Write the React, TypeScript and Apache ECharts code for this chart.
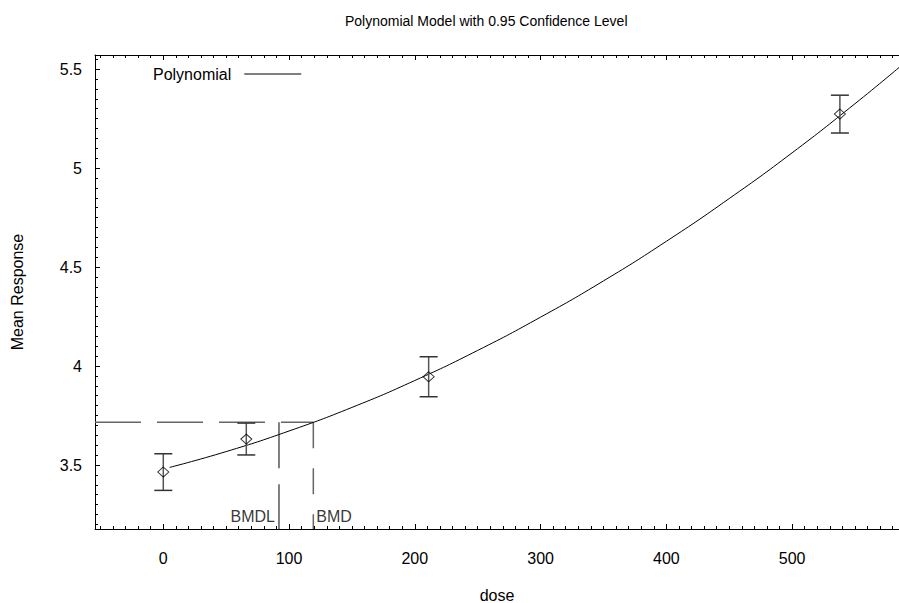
import React, { useEffect, useRef } from "react";
import * as echarts from "echarts";

// Observed data (dose, mean, 95% CI)
const doses = [0, 66, 211, 538];
const means = [3.465, 3.631, 3.946, 5.273];
const lower = [3.372, 3.551, 3.845, 5.177];
const upper = [3.557, 3.712, 4.047, 5.368];

// Fitted polynomial curve
const curveDose = [5, 50, 100, 150, 200, 250, 300, 350, 400, 450, 500, 550, 586];
const curveMean = [3.488, 3.568, 3.672, 3.791, 3.927, 4.079, 4.247, 4.43, 4.63, 4.846, 5.077, 5.325, 5.513];

// Benchmark values
const BMR = 3.716;
const BMDL = 92;
const BMD = 119.3;
const bmLabels = ["BMDL", "BMD"];

// Axis ranges and ticks
const xMin = -54.3;
const xMax = 585;
const yMin = 3.177;
const yMax = 5.571;
const xTicks = [0, 100, 200, 300, 400, 500];
const yTicks = [3.5, 4, 4.5, 5, 5.5];

const FONT = "Liberation Sans, Arial, sans-serif";

function range(a: number, b: number, step: number, digits: number) {
  const out: number[] = [];
  for (let v = a; v <= b + 1e-9; v += step) out.push(Number(v.toFixed(digits)));
  return out;
}
const xMinor = range(-50, 580, 10, 0);
const yMinor = range(3.2, 5.55, 0.05, 2);

export default function App() {
  const ref = useRef<HTMLDivElement>(null);
  useEffect(() => {
    if (!ref.current) return;
    const chart = echarts.init(ref.current, null, { renderer: "svg" });
    const axisLine = { show: true, onZero: false, lineStyle: { color: "#000", width: 1 } };
    const noLine = { show: false, onZero: false };
    const baseX = {
      type: "value",
      min: xMin,
      max: xMax,
      splitLine: { show: false },
    };
    const baseY = {
      type: "value",
      min: yMin,
      max: yMax,
      splitLine: { show: false },
    };
    chart.setOption({
      animation: false,
      backgroundColor: "#fff",
      title: {
        text: "Polynomial Model with 0.95 Confidence Level",
        left: 340,
        top: 9,
        textStyle: { fontFamily: FONT, fontSize: 14, fontWeight: "normal", color: "#000" },
      },
      legend: {
        data: [{ name: "Polynomial", icon: "rect" }],
        left: 153,
        top: 66,
        align: "right",
        itemWidth: 57,
        itemHeight: 1,
        padding: 0,
        textStyle: { fontFamily: FONT, fontSize: 16, color: "#000", padding: [0, 8, 0, 0] },
      },
      grid: { left: 95, right: 0, top: 55, bottom: 74, containLabel: false, outerBoundsMode: "none" },
      xAxis: [
        {
          ...baseX,
          position: "bottom",
          name: "dose",
          nameLocation: "middle",
          nameGap: 58,
          nameTextStyle: { fontFamily: FONT, fontSize: 16, color: "#000" },
          axisLine,
          axisTick: { show: true, inside: true, length: 5, customValues: xTicks, lineStyle: { color: "#000" } },
          axisLabel: { show: true, customValues: xTicks, margin: 21, fontFamily: FONT, fontSize: 16, color: "#000" },
        },
        {
          ...baseX,
          position: "bottom",
          axisLine: noLine,
          axisTick: { show: true, inside: true, length: 3, customValues: xMinor, lineStyle: { color: "#000" } },
          axisLabel: { show: false },
        },
        {
          ...baseX,
          position: "top",
          axisLine,
          axisTick: { show: true, inside: true, length: 5, customValues: xTicks, lineStyle: { color: "#000" } },
          axisLabel: { show: false },
        },
        {
          ...baseX,
          position: "top",
          axisLine: noLine,
          axisTick: { show: true, inside: true, length: 3, customValues: xMinor, lineStyle: { color: "#000" } },
          axisLabel: { show: false },
        },
      ],
      yAxis: [
        {
          ...baseY,
          position: "left",
          name: "Mean Response",
          nameLocation: "middle",
          nameGap: 70,
          nameTextStyle: { fontFamily: FONT, fontSize: 16, color: "#000" },
          axisLine,
          axisTick: { show: true, inside: true, length: 5, customValues: yTicks, lineStyle: { color: "#000" } },
          axisLabel: { show: true, customValues: yTicks, margin: 13, fontFamily: FONT, fontSize: 16, color: "#000" },
        },
        {
          ...baseY,
          position: "left",
          axisLine: noLine,
          axisTick: { show: true, inside: true, length: 3, customValues: yMinor, lineStyle: { color: "#000" } },
          axisLabel: { show: false },
        },
      ],
      series: [
        {
          name: "BMR",
          type: "line",
          data: [
            [xMin, BMR],
            [BMD, BMR],
          ],
          symbol: "none",
          lineStyle: { color: "#666", width: 1.5, type: [46, 16] },
          silent: true,
          z: 1,
        },
        {
          name: "BMDLline",
          type: "line",
          data: [
            [BMDL, BMR],
            [BMDL, yMin],
          ],
          symbol: "none",
          lineStyle: { color: "#000", width: 1, type: [46, 16] },
          silent: true,
          z: 1,
        },
        {
          name: "BMDline",
          type: "line",
          data: [
            [BMD, BMR],
            [BMD, yMin],
          ],
          symbol: "none",
          lineStyle: { color: "#666", width: 1.5, type: [26, 20] },
          silent: true,
          z: 1,
        },
        {
          name: "BMlabels",
          type: "scatter",
          data: [
            { value: [BMDL, yMin], label: { position: [-4, -13], align: "right" } },
            { value: [BMD, yMin], label: { position: [3, -13], align: "left" } },
          ],
          symbolSize: 0,
          silent: true,
          label: {
            show: true,
            verticalAlign: "middle",
            fontFamily: FONT,
            fontSize: 16,
            color: "#000",
            formatter: (p: any) => bmLabels[p.dataIndex],
          },
          z: 5,
        },
        {
          name: "Polynomial",
          type: "line",
          data: curveDose.map((d, i) => [d, curveMean[i]]),
          smooth: true,
          symbol: "none",
          lineStyle: { color: "#000", width: 1 },
          itemStyle: { color: "#000" },
          z: 2,
        },
        {
          name: "CI",
          type: "custom",
          data: doses.map((d, i) => [d, lower[i], upper[i]]),
          encode: { x: 0, y: [1, 2] },
          renderItem: (params: any, api: any) => {
            const x = api.value(0);
            const lo = api.coord([x, api.value(1)]);
            const hi = api.coord([x, api.value(2)]);
            const w = 9;
            return {
              type: "group",
              children: [
                { type: "line", shape: { x1: lo[0], y1: lo[1], x2: hi[0], y2: hi[1] }, style: { stroke: "#555", lineWidth: 1.5 } },
                { type: "line", shape: { x1: lo[0] - w, y1: lo[1], x2: lo[0] + w, y2: lo[1] }, style: { stroke: "#333", lineWidth: 1.5 } },
                { type: "line", shape: { x1: hi[0] - w, y1: hi[1], x2: hi[0] + w, y2: hi[1] }, style: { stroke: "#333", lineWidth: 1.5 } },
              ],
            };
          },
          z: 3,
        },
        {
          name: "Mean",
          type: "scatter",
          data: doses.map((d, i) => [d, means[i]]),
          symbol: "diamond",
          symbolSize: [11, 10],
          itemStyle: { color: "rgba(0,0,0,0)", borderColor: "#000", borderWidth: 1 },
          z: 4,
        },
      ],
    });
    return () => chart.dispose();
  }, []);
  return <div ref={ref} style={{ position: "absolute", left: 0, top: 0, width: 899, height: 603 }} />;
}
